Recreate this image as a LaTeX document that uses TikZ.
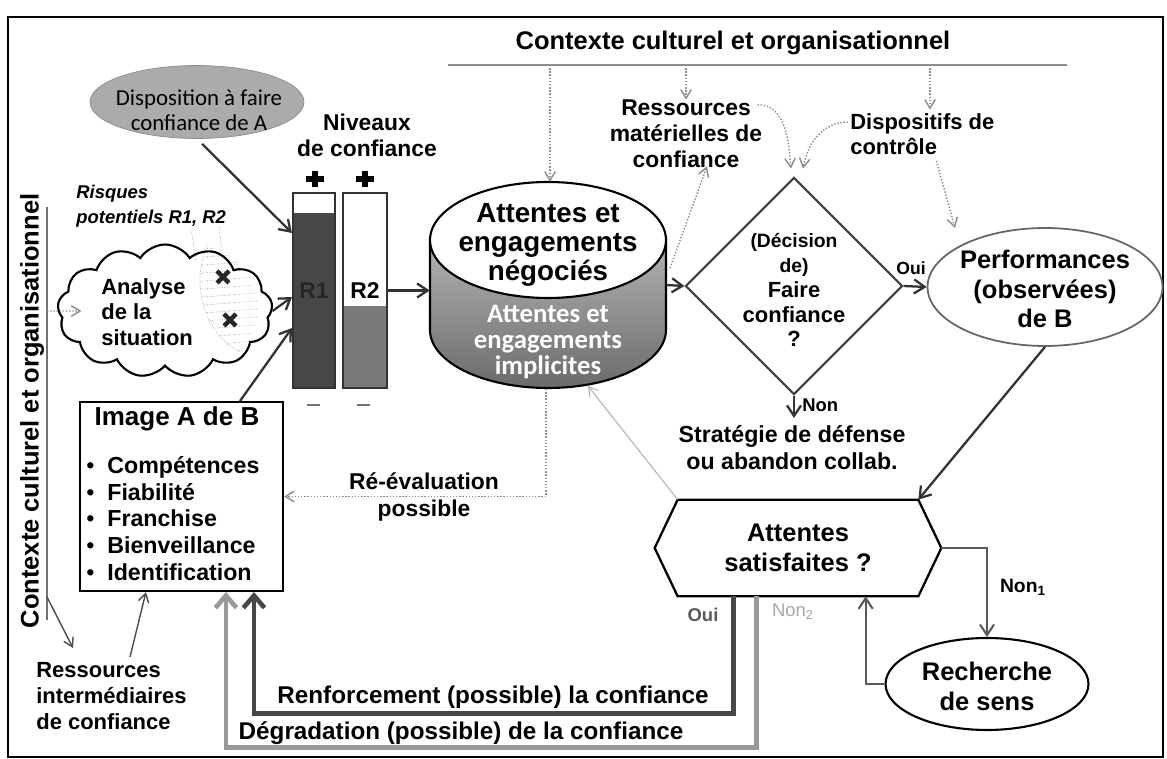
\documentclass[tikz,border=0pt]{standalone}
\usepackage{fontspec}
\setmainfont{Liberation Sans}
\newfontfamily\calfont{Carlito}
\usetikzlibrary{shapes.geometric,shapes.symbols,arrows.meta,calc}
\newcommand\fsz[2]{\fontsize{#1}{#2}\selectfont}
\newcommand\bul{\makebox[0.42cm][l]{\mdseries\textbullet}}
\begin{document}
\begin{tikzpicture}[x=0.02cm,y=-0.02cm,font=\bfseries,
  txt/.style={inner sep=0pt, align=center},
  ctx/.style={draw=black!45, densely dotted, line width=0.8pt, -{Straight Barb[length=5pt,width=6pt]}},
  arr/.style={draw=black!80, line width=1.3pt, -{Straight Barb[length=6pt,width=8pt]}},
  thinarr/.style={draw=black!70, line width=0.8pt, -{Straight Barb[length=5pt,width=6pt]}},
  garr/.style={draw=black!65, line width=1.2pt, -{Straight Barb[length=6pt,width=8pt]}},
  lightarr/.style={draw=black!30, line width=0.6pt, -{Straight Barb[length=5pt,width=6pt]}},
  bigarr/.style={line width=2.6pt, -{Straight Barb[length=7pt,width=12pt]}}
]
\useasboundingbox (0,0) rectangle (1167,759);
\fill[white] (0,0) rectangle (1167,759);
\draw[line width=1.4pt] (8,17) rectangle (1163,757);

% top context
\node[txt, font=\bfseries\fsz{14.5}{16}] (ctxt) at (733,43) {Contexte culturel et organisationnel};
\coordinate (tl) at (448,65); \coordinate (tr) at (1067,65);
\draw[black!45, line width=1pt] (tl) -- (tr);
\coordinate (ta1) at (550,65); \coordinate (ta2) at (686,65); \coordinate (ta3) at (930,65);

% cylinder
\node[minimum width=4.72cm, minimum height=4.12cm, inner sep=0] (cyl) at (548,285) {};
\draw[line width=1.2pt, top color=black!30, bottom color=black!58] (430,240) -- (430,330) arc[start angle=180,end angle=360,x radius=2.36cm,y radius=1.16cm] -- (666,240) -- cycle;
\draw[line width=1.2pt, fill=white] (548,240) ellipse [x radius=2.36cm, y radius=1.16cm];
\node[txt, font=\bfseries\fsz{15.8}{16.5}] (cyltop) at (548,245) {Attentes et\\engagements\\négociés};
\node[txt, text=white, font=\calfont\bfseries\fsz{15.2}{14.8}] (cylbot) at (548,342) {Attentes et\\engagements\\implicites};
\draw[ctx] (ta1) -- (ta1 |- cyl.north);

% diamond
\node[diamond, draw=black!75, line width=1.2pt, minimum width=4.34cm, minimum height=4.34cm, inner sep=0, aspect=1] (dia) at (794,286) {};
\node[txt, font=\bfseries\fsz{12.5}{14.2}] (diat) at (794,290) {{\fsz{11}{14.2}(Décision}\\{\fsz{11}{14.2}de)}\\Faire\\confiance\\?};
\draw[arr] (cyl.east) -- (dia.west);

% performances
\node[ellipse, draw=black!60, line width=1pt, minimum width=4.7cm, minimum height=2.36cm, inner sep=0] (perf) at (1045,287) {};
\node[txt, font=\bfseries\fsz{14.5}{17}] (perft) at (1045,289) {Performances\\(observées)\\de B};
\draw[arr] (dia.east) -- (perf.west);
\node[txt, font=\bfseries\fsz{10}{12}] (oui1) at (911,268) {Oui};

% Non
\coordinate (nonend) at (794,418);
\draw[arr] (dia.south) -- (nonend);
\node[txt, anchor=west, font=\bfseries\fsz{10.5}{12}] (nonl) at (802,405) {Non};
\node[txt, font=\bfseries\fsz{13.2}{15.4}] (strat) at (792,448) {Stratégie de défense\\ou abandon collab.};

% ressources materielles / dispositifs
\node[txt, font=\bfseries\fsz{13}{14.8}] (resmat) at (686,134) {Ressources\\matérielles de\\confiance};
\draw[ctx] (ta2) -- (resmat.north);
\node[txt, align=left, anchor=west, font=\bfseries\fsz{12.5}{14.2}] (disp) at (850,134) {Dispositifs de\\contrôle};
\draw[ctx, shorten >=2pt] (ta3) -- (ta3 |- disp.north);
\draw[ctx] ($(resmat.north east)+(-5,5)$) to[out=0, in=95] ($(dia.north)+(-3,-8)$);
\draw[ctx] ($(disp.west)+(-2,-12)$) to[out=180, in=80] ($(dia.north)+(9,-8)$);
\coordinate (cylr) at (670,268);
\draw[ctx] (cylr) -- ($(resmat.south)+(21,-2)$);
\coordinate (perfin) at (955,228);
\draw[ctx] ($(disp.south)+(14,6)$) -- (perfin);

% disposition
\node[ellipse, fill=black!33, draw=black!45, minimum width=4.28cm, minimum height=1.46cm, inner sep=0] (dispo) at (197,102) {};
\node[txt, font=\calfont\fsz{13}{14.2}] (dispot) at (199,110) {Disposition à faire\\confiance de A};

% bars
\fill[black!72] (293,213) rectangle (335,388);
\fill[black!52] (343,306) rectangle (387,388);
\node[draw=black!80, line width=1.2pt, minimum width=0.84cm, minimum height=3.9cm, inner sep=0, text=black!85, font=\bfseries\fsz{13}{15}] (r1) at (314,290.5) {R1};
\node[draw=black!80, line width=1.2pt, minimum width=0.88cm, minimum height=3.9cm, inner sep=0, font=\bfseries\fsz{13}{15}] (r2) at (365,290.5) {R2};
\draw[line width=3.3pt] (306,179) -- (324,179) (315,171) -- (315,187);
\draw[line width=3.3pt] (356,179) -- (374,179) (365,171) -- (365,187);
\draw[black!55, line width=1.5pt] (307,405) -- (320,405) (357,405) -- (370,405);
\node[txt, font=\bfseries\fsz{13}{14.8}] (niv) at (367,135) {Niveaux\\de confiance};
\coordinate (r1a) at (292,297); \coordinate (r1b) at (292,328); \coordinate (r1c) at (292,233);
\draw[arr, shorten <=4pt] (dispo.south) -- (r1c);
\draw[arr] (r2.east) -- (r2.east -| cyl.west);

% cloud
\begin{scope}
\clip (207,245) .. controls (190,285) and (205,335) .. (240,352) .. controls (268,330) and (268,262) .. (207,245);
\foreach \yy in {250,258,...,354} \draw[black!40, densely dotted] (190,\yy) -- (270,\yy-6);
\end{scope}
\draw[black!40, densely dotted] (207,245) .. controls (190,285) and (205,335) .. (240,352);
\draw[black!40, densely dotted] (196,262) -- (191,228) (222,250) -- (219,226);
\node[cloud, draw, line width=1.2pt, cloud puffs=13, cloud puff arc=115, aspect=1.6, minimum width=4.3cm, minimum height=2.66cm, inner sep=0] (cloud) at (165,311) {};
\node[txt, align=left, anchor=west, font=\bfseries\fsz{12.5}{14.5}] (cloudt) at (101,312) {Analyse\\de la\\situation};
\draw[line width=2.6pt, black!85] (217,271) -- (229,283) (217,283) -- (229,271);
\draw[line width=2.6pt, black!85] (224,314) -- (236,326) (224,326) -- (236,314);
\node[txt, align=left, anchor=west, font=\bfseries\itshape\fsz{10.5}{14.2}] (risk) at (76,206) {Risques\\potentiels R1, R2};
\draw[arr] (cloud.east) -- (r1a);

% image box
\node[draw, line width=1.2pt, minimum width=4.06cm, minimum height=3.78cm, inner sep=0] (img) at (181.5,496.5) {};
\node[txt, font=\bfseries\fsz{14.8}{17}] (imgt) at (177,419) {Image A de B};
\node[txt, align=left, anchor=west, font=\bfseries\fsz{13.2}{15.2}] (imgl) at (86,518.5) {\bul Compétences\\\bul Fiabilité\\\bul Franchise\\\bul Bienveillance\\\bul Identification};
\draw[arr] ($(img.north east)+(-44,0)$) -- (r1b);

% left context
\node[txt, rotate=90, font=\bfseries\fsz{14.5}{16}] (ctxl) at (32,411) {Contexte culturel et organisationnel};
\coordinate (vl1) at (47,207); \coordinate (vl2) at (47,620);
\draw[black!55, line width=1.5pt] (vl1) -- (vl2);
\coordinate (vlm) at (47,311);
\draw[ctx] (vlm) -- ($(cloud.west)+(24,0)$);
\coordinate (vlb) at (47,597); \coordinate (ri0) at (73,648);
\draw[thinarr] (vlb) -- (ri0);
\node[txt, align=left, anchor=west, font=\bfseries\fsz{12.5}{14.8}] (resint) at (36,696) {Ressources\\intermédiaires\\de confiance};
\draw[thinarr] ($(resint.north west)+(94,-5)$) -- ($(img.south west)+(67,0)$);

% re-evaluation
\coordinate (cylbt) at (546,389);
\draw[ctx] (cylbt) |- (img.east);
\node[txt, font=\bfseries\fsz{13}{15.2}] (reeval) at (424,497) {Ré-évaluation\\possible};

% hexagon
\node[minimum width=4.8cm, minimum height=1.92cm, inner sep=0, font=\bfseries\fsz{14.5}{17}, align=center] (hex) at (798,548) {Attentes\\satisfaites ?};
\draw[line width=1.3pt] ($(hex.west)+(-23,0)$) -- (hex.north west) -- (hex.north east) -- ($(hex.east)+(23,0)$) -- (hex.south east) -- (hex.south west) -- cycle;
\draw[arr] (perf.south) -- (hex.north east);
\coordinate (cylb2) at (588,386);
\draw[lightarr] (hex.north west) -- (cylb2);

% recherche
\node[ellipse, draw, line width=1.2pt, minimum width=4.06cm, minimum height=1.84cm, inner sep=0] (rech) at (987,684) {};
\node[txt, font=\bfseries\fsz{14.5}{17}] (recht) at (987,686) {Recherche\\de sens};
\draw[garr] ($(hex.east)+(23,0)$) -| (rech.north);
\node[txt, font=\bfseries\fsz{11}{13}] (non1) at (1023,587) {Non\textsubscript{1}};
\draw[garr] (rech.west) -| ($(hex.south west)+(188,0)$);
\node[txt, text=black!65, font=\bfseries\fsz{10.5}{12}] (oui2) at (703,615) {Oui};
\node[txt, text=black!35, font=\mdseries\fsz{10.5}{12}] (non2) at (793,612) {Non\textsubscript{2}};

% feedback loops
\draw[bigarr, draw=black!72] ($(hex.south west)+(56,0)$) -- ($(hex.south west)+(56,117)$) -| ($(img.south west)+(175,0)$);
\draw[bigarr, draw=black!40] ($(hex.south west)+(79,0)$) -- ($(hex.south west)+(79,151)$) -| ($(img.south west)+(147,0)$);
\node[txt, font=\bfseries\fsz{13.8}{15}] (renf) at (493,697) {Renforcement (possible) la confiance};
\node[txt, font=\bfseries\fsz{13.8}{15}] (degr) at (461,733) {Dégradation (possible) de la confiance};
\end{tikzpicture}
\end{document}
